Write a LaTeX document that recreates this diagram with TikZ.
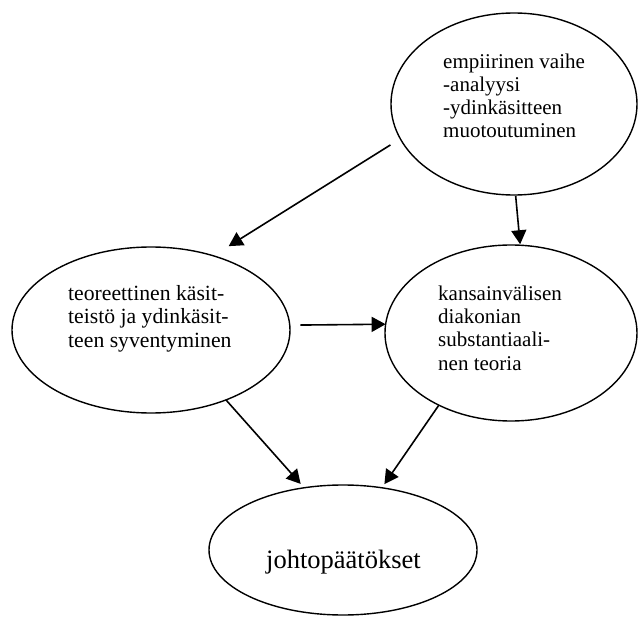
\documentclass[tikz,border=0pt]{standalone}
\usepackage{fontspec}
\setmainfont{Liberation Serif}
\usetikzlibrary{shapes.geometric, arrows.meta}

\begin{document}
\begin{tikzpicture}[x=1pt, y=-1pt,
  oval/.style={draw, ellipse, line width=1.4pt, inner sep=0pt, outer sep=0pt},
  phase text/.style={align=left, inner sep=0pt, anchor=base west, font=\fontsize{21}{23.3}\selectfont},
  flow/.style={-{Triangle[length=14pt, width=15pt]}, line width=1.6pt}]
\useasboundingbox (0,0) rectangle (638,618);

% ellipses (text placed by its last baseline)
\node[oval, minimum width=246pt, minimum height=182pt] (Empiria) at (514,104) {};
\node[phase text] (Empiria text) at (443,138) {empiirinen vaihe\\-analyysi\\-ydinkäsitteen\\muotoutuminen};

\node[oval, minimum width=278pt, minimum height=166pt] (Teoria) at (151,330) {};
\node[phase text, font=\fontsize{21.7}{23.4}\selectfont] (Teoria text) at (68,347) {teoreettinen käsit-\\teistö ja ydinkäsit-\\teen syventyminen};

\node[oval, minimum width=252pt, minimum height=176pt] (Substantiaali) at (511,333) {};
\node[phase text] (Substantiaali text) at (438,370) {kansainvälisen\\diakonian\\substantiaali-\\nen teoria};

\node[oval, minimum width=268pt, minimum height=130pt] (Johto) at (343,550) {};
\node[phase text, font=\fontsize{26.5}{30}\selectfont] (Johto text) at (266,568) {johtopäätökset};

% arrows
\draw[flow, shorten <=11.7pt, shorten >=18.2pt] (Empiria.197.7) -- (Teoria.50.4);
\draw[flow, shorten <=1pt, shorten >=1pt] (Empiria.271.9) -- (Substantiaali.84.8);
\draw[flow, shorten <=10.5pt] (Teoria.2.9) -- (Substantiaali.176.8);
\draw[flow, shorten >=5.2pt] (Teoria.317.9) -- (Johto.122.5);
\draw[flow, shorten >=4.5pt] (Substantiaali.225.8) -- (Johto.58.3);

\end{tikzpicture}
\end{document}
